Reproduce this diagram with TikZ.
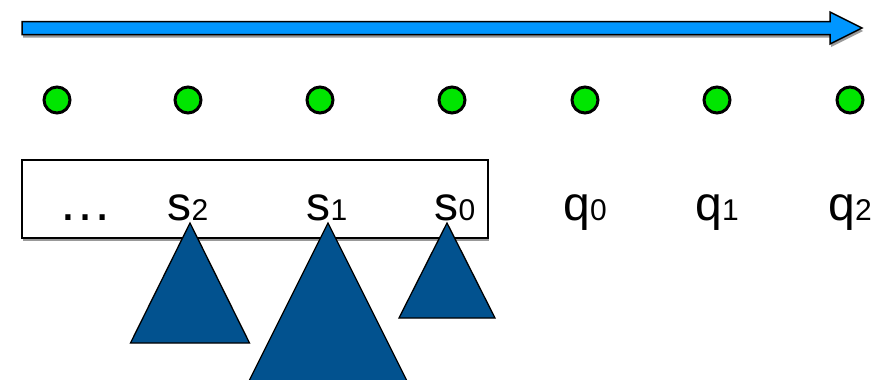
\documentclass[tikz,border=0pt]{standalone}
\usepackage{fontspec}
\setmainfont{Liberation Sans}
\usetikzlibrary{shadows}
\definecolor{arrowblue}{RGB}{0,150,255}
\definecolor{triblue}{RGB}{2,82,143}
\definecolor{dotgreen}{RGB}{0,230,0}
\newcommand{\biglbl}[2]{\fontsize{48}{48}\selectfont #1\fontsize{30}{30}\selectfont #2}
\begin{document}
\begin{tikzpicture}[x=1pt,y=-1pt,
  dot/.style={circle,draw=black,line width=3pt,fill=dotgreen,minimum size=26pt,inner sep=0pt},
  lbl/.style={anchor=base,inner sep=0pt},
  tri/.style={fill=triblue,draw=black,line width=1.3pt,line join=miter},
  shade/.style={drop shadow={shadow xshift=1pt,shadow yshift=-3pt,opacity=0.4,fill=black}}]
\useasboundingbox (0,0) rectangle (881,380);
\clip (0,0) rectangle (881,380);
% time arrow
\draw[fill=arrowblue,line width=1.5pt,line join=miter,shade]
  (22,21.5) -- (830,21.5) -- (830,12) -- (862,28) -- (830,44) -- (830,34.5) -- (22,34.5) -- cycle;
% dots
\foreach \x/\n in {57/d1,188/d2,320/d3,452/d4,585/d5,717/d6,850/d7}
  \node[dot] (\n) at (\x,100) {};
% stack box
\node[draw,line width=1.5pt,fill=white,shade,minimum width=466pt,minimum height=78pt,inner sep=0pt] (box) at (255,199) {};
% labels
\node[lbl] (dots) at (85,220) {\fontsize{54}{54}\selectfont \dots};
\node[lbl] (s2) at (188,220) {\biglbl{s}{2}};
\node[lbl] (s1) at (327,220) {\biglbl{s}{1}};
\node[lbl] (s0) at (455,220) {\biglbl{s}{0}};
\node[lbl] (q0) at (585,220) {\biglbl{q}{0}};
\node[lbl] (q1) at (717,220) {\biglbl{q}{1}};
\node[lbl] (q2) at (850,220) {\biglbl{q}{2}};
% triangles
\coordinate (a2) at (190,223);
\coordinate (a1) at (328,223);
\coordinate (a0) at (447,223);
\draw[tri] (a2) -- ++(59.5,120) -- ++(-119,0) -- cycle;
\draw[tri] (a1) -- ++(95,190) -- ++(-190,0) -- cycle;
\draw[tri] (a0) -- ++(48,95) -- ++(-96,0) -- cycle;
\end{tikzpicture}
\end{document}
